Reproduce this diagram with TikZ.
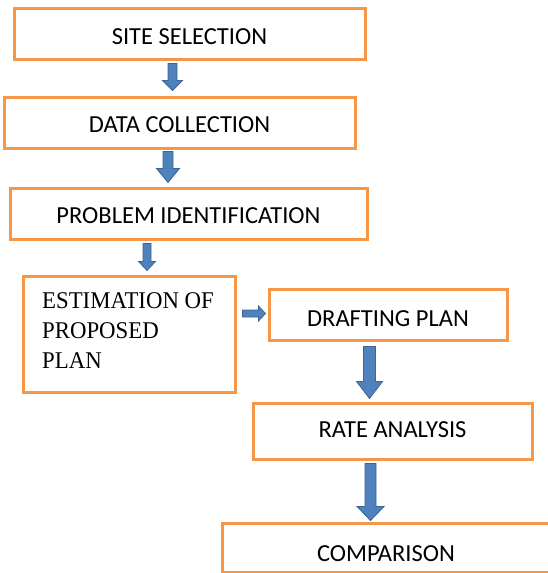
\documentclass[tikz,border=0pt]{standalone}
\usepackage{fontspec}
\newfontfamily\carl{Carlito}
\newfontfamily\tnr[FakeStretch=0.95]{Liberation Serif}
\usetikzlibrary{calc}
\definecolor{boxorange}{HTML}{F79646}
\definecolor{arrowblue}{HTML}{4F81BD}
\definecolor{arrowedge}{HTML}{3A6595}
\begin{document}
\begin{tikzpicture}[x=1pt,y=-1pt,
  box/.style={draw=boxorange, line width=3pt, fill=white, inner sep=0pt,
    font=\carl\fontsize{24.5}{26}\selectfont, text depth=0pt},
  serifbody/.style={inner sep=0pt, align=left, font=\tnr\fontsize{24}{30}\selectfont},
  blockarrow/.style={fill=arrowblue, draw=arrowedge, line width=0.8pt, line join=miter},
  vblock/.style n args={3}{blockarrow, to path={let \p1=(\tikztostart), \p2=(\tikztotarget) in
    (\x1-#1pt,\y1) -- (\x1+#1pt,\y1) -- (\x1+#1pt,\y2+#3pt) -- (\x1+#2pt,\y2+#3pt) --
    (\x1,\y2) -- (\x1-#2pt,\y2+#3pt) -- (\x1-#1pt,\y2+#3pt) -- cycle}},
  hblock/.style n args={3}{blockarrow, to path={let \p1=(\tikztostart), \p2=(\tikztotarget) in
    (\x1,\y1+#1pt) -- (\x2-#3pt,\y1+#1pt) -- (\x2-#3pt,\y1+#2pt) -- (\x2,\y1) --
    (\x2-#3pt,\y1-#2pt) -- (\x2-#3pt,\y1-#1pt) -- (\x1,\y1-#1pt) -- cycle}}]
\useasboundingbox (0,0) rectangle (548,573);

\node[box, minimum width=351pt, minimum height=51pt, text height=22.8pt] (s1) at (189.5,33.5) {SITE SELECTION};
\node[box, minimum width=351pt, minimum height=51pt, text height=20.8pt] (dc) at (179.5,122.5) {DATA COLLECTION};
\node[box, minimum width=357pt, minimum height=51pt, text height=20.8pt] (pi) at (188.5,213.5) {PROBLEM IDENTIFICATION};
\node[box, minimum width=212pt, minimum height=116pt] (est) at (129,334) {};
\node[serifbody, anchor=north west] (estT) at (42,292) {ESTIMATION OF\\PROPOSED\\PLAN};
\node[box, minimum width=238pt, minimum height=51pt, text height=24.8pt] (draft) at (388,314.5) {DRAFTING PLAN};
\node[box, minimum width=279pt, minimum height=56pt, text height=12.8pt] (rate) at (392.5,431) {RATE ANALYSIS};
\node[box, minimum width=328pt, minimum height=49pt, text height=28.8pt] (comp) at (386,547.5) {COMPARISON};

\draw[vblock={4.5}{10}{10}] ($(s1.south -| 172.5,0)+(0,3)$) to ($(dc.north -| 172.5,0)+(0,-5)$);
\draw[vblock={5}{11.5}{14}] ($(dc.south -| 168,0)+(0,2)$) to ($(pi.north -| 168,0)+(0,-4)$);
\draw[vblock={4}{8.5}{9}] ($(pi.south -| 147,0)+(0,3)$) to ($(est.north -| 147,0)+(0,-4)$);
\draw[hblock={3.5}{7.5}{7}] ($(est.east |- 0,313.5)+(6,0)$) to ($(draft.west |- 0,313.5)+(-2,0)$);
\draw[vblock={6}{13}{17}] ($(draft.south -| 369.5,0)+(0,5)$) to ($(rate.north -| 369.5,0)+(0,-3)$);
\draw[vblock={5.5}{13.5}{14}] ($(rate.south -| 370.5,0)+(0,3)$) to ($(comp.north -| 370.5,0)+(0,-1)$);
\end{tikzpicture}
\end{document}
